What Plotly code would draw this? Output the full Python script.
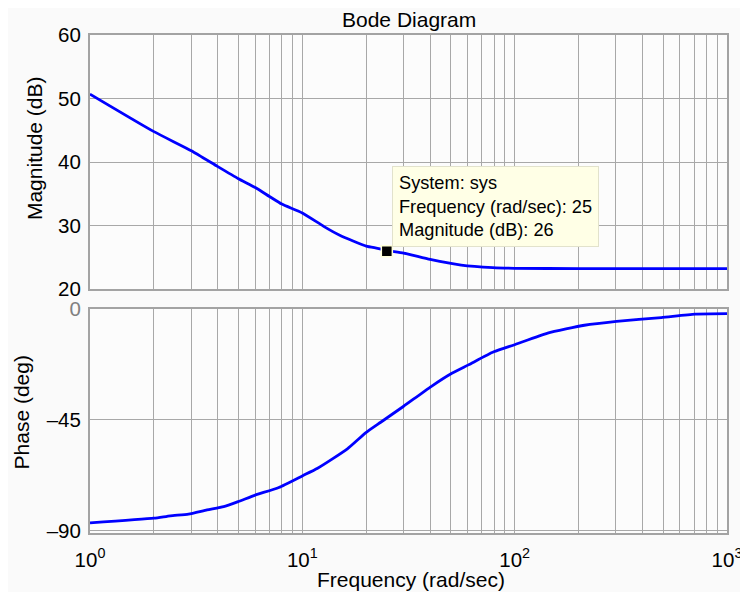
import numpy as np
import plotly.graph_objects as go

# ---- data ----
mag_freq = [1, 2, 3, 4, 5, 6, 7, 8, 10, 12.6, 15, 20, 22.6, 25, 30, 40, 56, 79, 100, 200, 500, 1000]
mag_db = [50.7, 44.8, 41.8, 39.3, 37.4, 36.0, 34.6, 33.4, 32.0, 29.9, 28.5, 26.8, 26.45, 26.1, 25.7, 24.7,
          23.8, 23.4, 23.3, 23.25, 23.25, 23.25]

phase_freq = [1, 2, 2.39, 2.91, 3.56, 4.26, 5, 6, 7.75, 10, 11.8, 16.3, 20, 23.4, 29.9, 40.4, 49.7,
              60.6, 79.7, 100.7, 143, 213, 302, 490, 707, 1000]
phase_deg = [-86.9, -85.0, -84.0, -83.3, -81.6, -80.3, -78.2, -75.6, -72.5, -67.8, -64.7, -56.8, -50.1,
             -46.0, -39.6, -31.5, -26.5, -22.7, -17.4, -14.4, -9.8, -6.6, -5.0, -3.5, -2.1, -1.9]

marker_freq = 25
marker_mag = 26
tooltip_lines = ["System: sys", "Frequency (rad/sec): 25", "Magnitude (dB): 26"]

decades = [1, 10, 100, 1000]
decade_labels = ["10<sup>0</sup>", "10<sup>1</sup>", "10<sup>2</sup>", "10<sup>3</sup>"]
mag_ticks = [20, 30, 40, 50, 60]
phase_ticks = [-90, -45, 0]
phase_labels = ["\u201390", "\u201345", "<span style='color:#808080'>0</span>"]

# ---- styling ----
FONT = "Liberation Sans, Arial, sans-serif"
GRID = "#a8a8a8"
FRAME = "#a3a3a3"
BLUE = "#0000ff"

x_tickvals = []
x_ticktext = []
for d in decades[:-1]:
    for m in range(1, 10):
        x_tickvals.append(d * m)
        x_ticktext.append(decade_labels[decades.index(d)] if m == 1 else "")
x_tickvals.append(1000)
x_ticktext.append(decade_labels[-1])

fig = go.Figure()
fig.add_trace(go.Scatter(x=mag_freq, y=mag_db, mode="lines",
                         line=dict(color=BLUE, width=2.8, shape="spline", smoothing=0.5),
                         xaxis="x", yaxis="y", showlegend=False, hoverinfo="skip"))
fig.add_trace(go.Scatter(x=phase_freq, y=phase_deg, mode="lines",
                         line=dict(color=BLUE, width=2.8, shape="spline", smoothing=0.5),
                         xaxis="x2", yaxis="y2", showlegend=False, hoverinfo="skip"))
fig.add_trace(go.Scatter(x=[marker_freq], y=[marker_mag], mode="markers",
                         marker=dict(symbol="square", size=11, color="black",
                                     line=dict(color="#ffffd8", width=1.5)),
                         xaxis="x", yaxis="y", showlegend=False, hoverinfo="skip"))

common_x = dict(type="log", range=[0, 3], tickvals=x_tickvals, ticktext=x_ticktext,
                showgrid=True, gridcolor=GRID, gridwidth=1, zeroline=False, automargin=False,
                showline=True, linecolor=FRAME, linewidth=2, mirror=True, ticks="",
                domain=[0, 1], tickfont=dict(family=FONT, size=20.5, color="black"))

common_y = dict(showgrid=True, gridcolor=GRID, zeroline=False, showline=True, linecolor=FRAME,
                linewidth=2, mirror=True, ticks="", ticklabelstandoff=3, automargin=False,
                tickfont=dict(family=FONT, size=20.5, color="black"))

# page body has an 8px margin, so figure coordinates are shifted by 8px
fig.update_layout(
    width=740, height=584,
    margin=dict(l=82, r=21, t=27, b=59, autoexpand=False),
    paper_bgcolor="#fafafa", plot_bgcolor="#fcfcfc",
    font=dict(family=FONT, color="black"),
    xaxis=dict(common_x, anchor="y", showticklabels=False, matches="x2"),
    xaxis2=dict(common_x, anchor="y2", ticklabelstandoff=7),
    yaxis=dict(common_y, domain=[0.4894, 1], range=[20, 60], tickvals=mag_ticks),
    yaxis2=dict(common_y, domain=[0, 0.4498], range=[-91, 0], tickvals=phase_ticks,
                ticktext=phase_labels),
)

annots = [
    dict(text="Bode Diagram", xref="paper", yref="paper", x=0.5008, y=1.032,
         xanchor="center", yanchor="middle", showarrow=False, font=dict(size=21)),
    dict(text="Magnitude (dB)", xref="paper", yref="paper", x=-0.0879, y=0.773,
         xanchor="center", yanchor="middle", textangle=-90, showarrow=False, font=dict(size=21)),
    dict(text="Phase (deg)", xref="paper", yref="paper", x=-0.1068, y=0.242,
         xanchor="center", yanchor="middle", textangle=-90, showarrow=False, font=dict(size=21)),
    dict(text="Frequency (rad/sec)", xref="paper", yref="paper", x=0.504, y=-0.0924,
         xanchor="center", yanchor="middle", showarrow=False, font=dict(size=21)),
    dict(text="<br>".join(tooltip_lines), xref="x", yref="y", x=np.log10(marker_freq), y=marker_mag,
         xanchor="left", yanchor="bottom", xshift=5, yshift=4, showarrow=False, align="left",
         bgcolor="#ffffe6", bordercolor="#e2e2cc", borderwidth=1, borderpad=6,
         font=dict(size=18.2, color="black")),
]
fig.update_layout(annotations=annots)

fig.write_html("out.html")
